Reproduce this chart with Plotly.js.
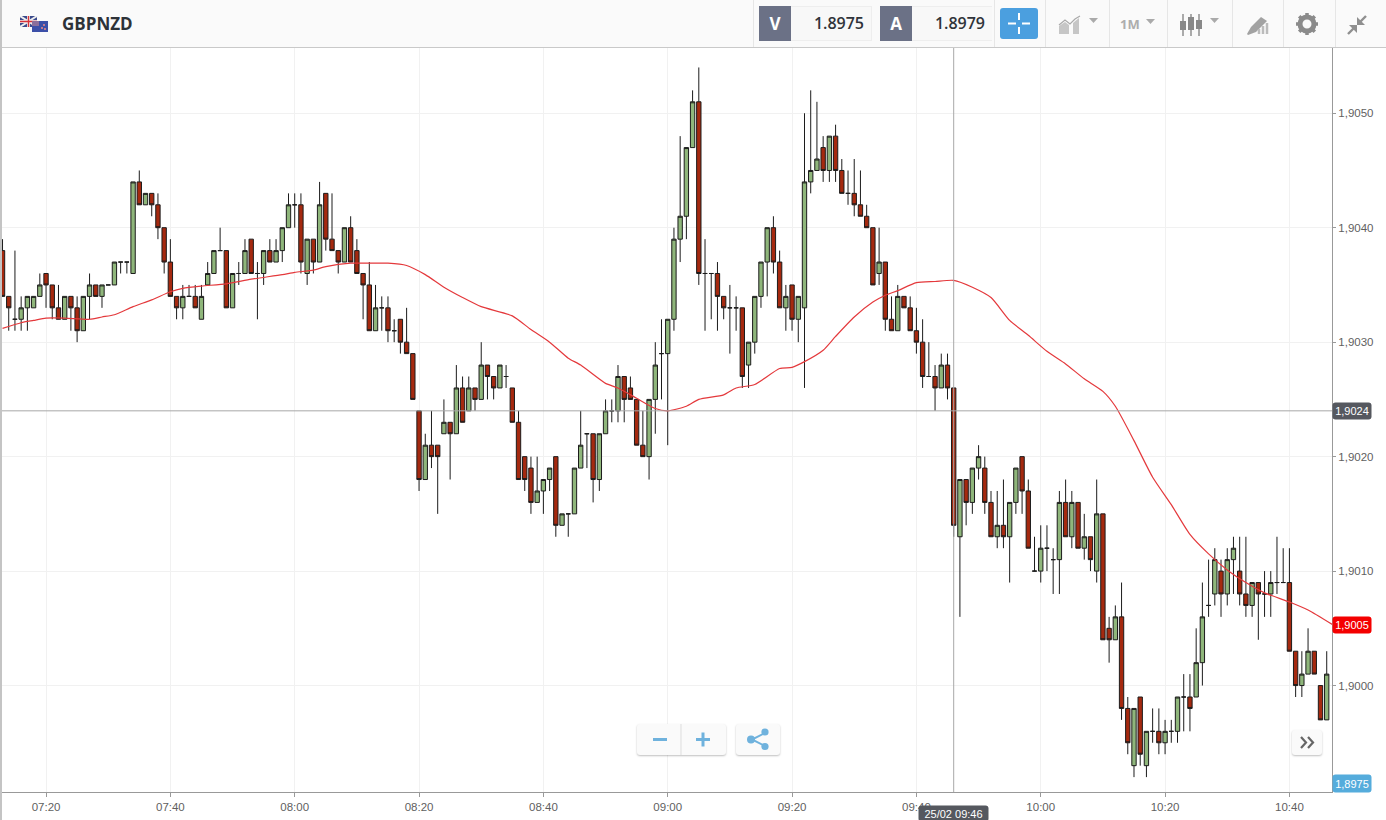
<!DOCTYPE html>
<html>
<head>
<meta charset="utf-8">
<title>GBPNZD</title>
<script src="https://cdn.plot.ly/plotly-3.0.1.min.js"></script>
<style>
  html, body { margin: 0; padding: 0; background: #fff; overflow: hidden; }
  #wrap { position: relative; width: 1386px; height: 820px; font-family: "Open Sans", sans-serif; }
  #chart { position: absolute; left: 0; top: 0; width: 1386px; height: 820px; }
  #chart .annotation rect.bg { rx: 3px; ry: 3px; }
  #edge { position: absolute; left: 0; top: 0; width: 2px; height: 820px; background: #c4c4c4; }
  #bar { position: absolute; left: 2px; top: 0; width: 1384px; height: 47px; background: #fafafa; border-bottom: 1px solid #c9c9c9; }
  #bar .sym { position: absolute; left: 60px; top: 12px; font-size: 17px; font-weight: 700; color: #2d3238; }
  #bar .sep { position: absolute; top: 0; width: 1px; height: 47px; background: #e6e6e6; }
  #bar .tag { position: absolute; top: 6px; width: 32px; height: 35px; background: #6b7186; color: #fff; font-size: 17px; font-weight: 700; line-height: 35px; text-align: center; }
  #bar .val { position: absolute; top: 6px; width: 80px; height: 33px; line-height: 33px; background: #f8f8f8; border: 1px solid #eee; border-left: 0; font-size: 16px; font-weight: 600; color: #30343a; text-align: right; }
  #bar .val span { margin-right: 7px; }
  #bar .cross { position: absolute; left: 998px; top: 8px; width: 38px; height: 31px; background: #4b9fdf; border-radius: 3px; }
  #bar svg { position: absolute; }
  #bar .tf { position: absolute; left: 1118px; top: 15px; font-size: 13px; font-weight: 700; color: #adadad; }
  .btn { position: absolute; background: #fafafa; border-radius: 3px; box-shadow: 0 1px 2px rgba(0,0,0,.25); }
  .btn svg { position: absolute; left: 0; top: 0; }
</style>
</head>
<body>
<div id="wrap">
  <div id="chart"></div>
  <div id="edge"></div>
  <div id="bar">
    <svg style="left:18px;top:16px" width="30" height="17" viewBox="0 0 30 17">
      <rect x="0" y="0" width="17" height="11" fill="#3a4a8c"/>
      <path d="M0 0L17 11M17 0L0 11" stroke="#eee" stroke-width="2"/>
      <path d="M8.5 0V11M0 5.5H17" stroke="#eee" stroke-width="3"/>
      <path d="M8.5 0V11M0 5.5H17" stroke="#d8333a" stroke-width="1.4"/>
      <rect x="12" y="5" width="16" height="11" fill="#3c50a8"/>
      <rect x="12" y="5" width="7" height="5" fill="#8a6f9c"/>
      <circle cx="24" cy="9" r="1" fill="#e88"/><circle cx="22" cy="12" r="1" fill="#e88"/><circle cx="25" cy="13" r="1" fill="#e88"/>
    </svg>
    <div class="sym">GBPNZD</div>
    <div class="sep" style="left:751px"></div>
    <div class="tag" style="left:757px">V</div>
    <div class="val" style="left:789px"><span>1.8975</span></div>
    <div class="tag" style="left:878px">A</div>
    <div class="val" style="left:910px;border-right:0"><span>1.8979</span></div>
    <div class="sep" style="left:992px"></div>
    <div class="cross">
      <svg style="left:0;top:0" width="38" height="31" viewBox="0 0 38 31">
        <path d="M8 15.5H16M22 15.5H30M19 5V12M19 19V26" stroke="#fff" stroke-width="2"/>
      </svg>
    </div>
    <div class="sep" style="left:1043px"></div>
    <svg style="left:1055px;top:14px" width="50" height="22" viewBox="0 0 50 22" fill="#c6c6c6">
      <path d="M2 20V12L8 8L12 11V20ZM16 20V9L22 4V20Z"/>
      <path d="M2 11L8 6L13 10L18 5L23 2" stroke="#aaa" stroke-width="1.2" fill="none"/>
      <path d="M32 4H41L36.5 9Z" fill="#aaa"/>
    </svg>
    <div class="sep" style="left:1107px"></div>
    <div class="tf">1M</div>
    <svg style="left:1143px;top:18px" width="12" height="8" viewBox="0 0 12 8"><path d="M1 1H10L5.5 6Z" fill="#aaa"/></svg>
    <div class="sep" style="left:1165px"></div>
    <svg style="left:1176px;top:13px" width="44" height="24" viewBox="0 0 44 24" fill="#888">
      <path d="M5 1V23M13 1V23M21 1V23" stroke="#888" stroke-width="1.4"/>
      <rect x="2" y="8" width="6" height="9"/><rect x="10" y="4" width="6" height="13"/><rect x="18" y="7" width="6" height="9"/>
      <path d="M32 5H41L36.5 10Z" fill="#aaa"/>
    </svg>
    <div class="sep" style="left:1230px"></div>
    <svg style="left:1243px;top:15px" width="24" height="22" viewBox="0 0 24 22" fill="#a2a2a2">
      <path d="M2 19L6 12L16 2L22 6L11 17L3 20Z"/>
      <path d="M14 19V14M18 19V11M22 19V8" stroke="#bbb" stroke-width="2.5"/>
    </svg>
    <div class="sep" style="left:1281px"></div>
    <svg style="left:1293px;top:12px" width="24" height="24" viewBox="0 0 24 24">
      <circle cx="12" cy="12" r="7" fill="none" stroke="#8b8b8b" stroke-width="5"/>
      <path d="M12 1V5M12 19V23M1 12H5M19 12H23M4.2 4.2L7 7M17 17L19.8 19.8M19.8 4.2L17 7M7 17L4.2 19.8" stroke="#8b8b8b" stroke-width="3.5"/>
    </svg>
    <div class="sep" style="left:1333px"></div>
    <svg style="left:1343px;top:13px" width="24" height="24" viewBox="0 0 24 24" fill="#8f8f8f">
      <path d="M21 3L15 9" stroke="#8f8f8f" stroke-width="2.4"/><path d="M12 4V12H20Z"/>
      <path d="M3 21L9 15" stroke="#8f8f8f" stroke-width="2.4"/><path d="M4 12H12V20Z"/>
    </svg>
  </div>
  <div class="btn" style="left:637px;top:724px;width:89px;height:31px">
    <svg width="89" height="31" viewBox="0 0 89 31">
      <path d="M44 0V31" stroke="#ddd"/>
      <path d="M16 15.5H30M59 15.5H73M66 8.5V22.5" stroke="#6fb2dd" stroke-width="3"/>
    </svg>
  </div>
  <div class="btn" style="left:736px;top:724px;width:44px;height:31px">
    <svg width="44" height="31" viewBox="0 0 44 31">
      <path d="M29 9L16 15.5L29 22" stroke="#6fb2dd" stroke-width="2" fill="none"/>
      <circle cx="15" cy="15.5" r="4" fill="#6fb2dd"/><circle cx="29" cy="8" r="3.6" fill="#6fb2dd"/><circle cx="29" cy="22.5" r="3.6" fill="#6fb2dd"/>
    </svg>
  </div>
  <div class="btn" style="left:1292px;top:730px;width:30px;height:25px">
    <svg width="30" height="25" viewBox="0 0 30 25">
      <path d="M9 7L14 12.5L9 18M16 7L21 12.5L16 18" stroke="#666" stroke-width="2.2" fill="none"/>
    </svg>
  </div>
</div>
<script>
const firstCandle = "2020-02-25 07:13";

const opens = [
  1.9038,1.9034,1.9032,1.9032,1.9033,1.9033,1.9034,1.9036,1.9035,1.9033,
  1.9032,1.9034,1.9033,1.9031,1.9034,1.9035,1.9034,1.9035,1.9035,1.9037,
  1.9037,1.9036,1.9044,1.9042,1.9043,1.9042,1.9040,1.9037,1.9034,1.9033,
  1.9034,1.9034,1.9032,1.9035,1.9036,1.9038,1.9038,1.9033,1.9036,1.9036,
  1.9039,1.9036,1.9036,1.9038,1.9037,1.9038,1.9040,1.9042,1.9042,1.9036,
  1.9039,1.9037,1.9043,1.9039,1.9038,1.9037,1.9040,1.9038,1.9036,1.9035,
  1.9031,1.9033,1.9033,1.9031,1.9032,1.9030,1.9029,1.9024,1.9018,1.9021,
  1.9021,1.9022,1.9023,1.9022,1.9026,1.9024,1.9026,1.9025,1.9028,1.9027,
  1.9026,1.9027,1.9026,1.9023,1.9020,1.9019,1.9016,1.9017,1.9018,1.9020,
  1.9014,1.9015,1.9015,1.9019,1.9022,1.9022,1.9018,1.9022,1.9024,1.9024,
  1.9027,1.9026,1.9025,1.9021,1.9020,1.9025,1.9029,1.9029,1.9032,1.9039,
  1.9041,1.9047,1.9051,1.9036,1.9036,1.9036,1.9034,1.9033,1.9033,1.9033,
  1.9028,1.9030,1.9034,1.9037,1.9040,1.9037,1.9033,1.9035,1.9032,1.9033,
  1.9044,1.9045,1.9047,1.9045,1.9048,1.9045,1.9043,1.9043,1.9042,1.9041,
  1.9040,1.9036,1.9037,1.9032,1.9031,1.9034,1.9033,1.9031,1.9030,1.9027,
  1.9027,1.9026,1.9028,1.9026,1.9013,1.9018,1.9016,1.9019,1.9019,1.9016,
  1.9013,1.9014,1.9013,1.9016,1.9020,1.9017,1.9010,1.9010,1.9012,1.9011,
  1.9011,1.9016,1.9013,1.9016,1.9012,1.9013,1.9010,1.9015,1.9005,1.9004,
  1.9006,1.8998,1.8993,1.8999,1.8993,1.8996,1.8996,1.8995,1.8996,1.8996,
  1.8999,1.8999,1.8999,1.9002,1.9007,1.9008,1.9010,1.9008,1.9011,1.9010,
  1.9008,1.9007,1.9009,1.9008,1.9008,1.9009,1.9009,1.9009,1.9003,1.9000,
  1.9001,1.9003,1.9000,1.8997
];
const highs = [
  1.9039,1.9034,1.9038,1.9034,1.9034,1.9034,1.9036,1.9036,1.9035,1.9035,
  1.9034,1.9034,1.9034,1.9034,1.9036,1.9035,1.9035,1.9035,1.9037,1.9037,
  1.9037,1.9044,1.9045,1.9043,1.9043,1.9043,1.9040,1.9039,1.9034,1.9035,
  1.9035,1.9035,1.9035,1.9037,1.9038,1.9040,1.9038,1.9036,1.9037,1.9039,
  1.9039,1.9037,1.9038,1.9039,1.9039,1.9040,1.9043,1.9043,1.9043,1.9039,
  1.9039,1.9044,1.9043,1.9043,1.9038,1.9040,1.9041,1.9039,1.9036,1.9037,
  1.9035,1.9034,1.9034,1.9032,1.9032,1.9033,1.9029,1.9024,1.9022,1.9024,
  1.9021,1.9025,1.9023,1.9028,1.9027,1.9027,1.9026,1.9030,1.9028,1.9027,
  1.9028,1.9028,1.9026,1.9024,1.9020,1.9020,1.9020,1.9018,1.9019,1.9020,
  1.9015,1.9015,1.9019,1.9024,1.9022,1.9022,1.9022,1.9025,1.9025,1.9028,
  1.9027,1.9027,1.9025,1.9024,1.9025,1.9030,1.9032,1.9032,1.9040,1.9048,
  1.9047,1.9052,1.9054,1.9039,1.9036,1.9037,1.9034,1.9035,1.9034,1.9033,
  1.9030,1.9034,1.9037,1.9040,1.9041,1.9038,1.9035,1.9035,1.9034,1.9050,
  1.9052,1.9051,1.9048,1.9048,1.9049,1.9046,1.9045,1.9046,1.9045,1.9042,
  1.9040,1.9040,1.9037,1.9034,1.9035,1.9034,1.9034,1.9033,1.9032,1.9030,
  1.9028,1.9029,1.9029,1.9026,1.9018,1.9018,1.9019,1.9021,1.9020,1.9017,
  1.9017,1.9018,1.9016,1.9019,1.9020,1.9018,1.9013,1.9014,1.9014,1.9012,
  1.9017,1.9018,1.9017,1.9016,1.9015,1.9013,1.9018,1.9015,1.9006,1.9007,
  1.9009,1.8999,1.8998,1.8999,1.8996,1.8998,1.8998,1.8997,1.8997,1.8999,
  1.9001,1.9001,1.9005,1.9009,1.9011,1.9012,1.9011,1.9012,1.9013,1.9013,
  1.9013,1.9009,1.9009,1.9010,1.9010,1.9013,1.9012,1.9012,1.9003,1.9003,
  1.9005,1.9003,1.9000,1.9003
];
const lows = [
  1.9034,1.9031,1.9031,1.9031,1.9031,1.9033,1.9034,1.9033,1.9032,1.9032,
  1.9032,1.9031,1.9030,1.9031,1.9032,1.9034,1.9033,1.9035,1.9035,1.9036,
  1.9036,1.9036,1.9042,1.9042,1.9041,1.9039,1.9036,1.9034,1.9032,1.9032,
  1.9034,1.9033,1.9032,1.9035,1.9036,1.9038,1.9033,1.9033,1.9035,1.9036,
  1.9036,1.9032,1.9035,1.9037,1.9037,1.9037,1.9040,1.9040,1.9036,1.9035,
  1.9036,1.9037,1.9038,1.9038,1.9036,1.9037,1.9037,1.9036,1.9032,1.9031,
  1.9031,1.9031,1.9030,1.9030,1.9029,1.9029,1.9025,1.9017,1.9018,1.9019,
  1.9015,1.9022,1.9018,1.9022,1.9023,1.9024,1.9024,1.9025,1.9025,1.9025,
  1.9026,1.9026,1.9023,1.9018,1.9017,1.9015,1.9016,1.9015,1.9017,1.9013,
  1.9014,1.9013,1.9015,1.9019,1.9019,1.9016,1.9017,1.9022,1.9023,1.9023,
  1.9023,1.9025,1.9021,1.9020,1.9018,1.9022,1.9025,1.9021,1.9031,1.9037,
  1.9039,1.9047,1.9035,1.9031,1.9032,1.9031,1.9032,1.9029,1.9031,1.9026,
  1.9026,1.9029,1.9033,1.9034,1.9036,1.9033,1.9031,1.9031,1.9030,1.9026,
  1.9043,1.9045,1.9044,1.9044,1.9044,1.9043,1.9042,1.9041,1.9041,1.9040,
  1.9035,1.9035,1.9031,1.9031,1.9031,1.9033,1.9031,1.9029,1.9026,1.9027,
  1.9024,1.9026,1.9025,1.9013,1.9006,1.9014,1.9015,1.9018,1.9015,1.9013,
  1.9012,1.9012,1.9009,1.9015,1.9015,1.9012,1.9010,1.9009,1.9010,1.9008,
  1.9008,1.9013,1.9012,1.9012,1.9011,1.9010,1.9009,1.9004,1.9002,1.9004,
  1.8997,1.8994,1.8992,1.8993,1.8992,1.8995,1.8994,1.8994,1.8995,1.8995,
  1.8996,1.8996,1.8999,1.9000,1.9006,1.9007,1.9006,1.9007,1.9008,1.9007,
  1.9006,1.9006,1.9004,1.9006,1.9006,1.9008,1.9009,1.9003,1.8999,1.8999,
  1.9001,1.9001,1.8997,1.8997
];
const closes = [
  1.9034,1.9033,1.9032,1.9033,1.9034,1.9034,1.9035,1.9035,1.9033,1.9032,
  1.9034,1.9033,1.9031,1.9034,1.9035,1.9034,1.9035,1.9035,1.9037,1.9037,
  1.9037,1.9044,1.9042,1.9043,1.9042,1.9040,1.9037,1.9034,1.9033,1.9034,
  1.9034,1.9033,1.9034,1.9036,1.9038,1.9038,1.9033,1.9036,1.9036,1.9038,
  1.9036,1.9036,1.9038,1.9037,1.9038,1.9040,1.9042,1.9042,1.9037,1.9039,
  1.9037,1.9042,1.9039,1.9038,1.9037,1.9040,1.9037,1.9036,1.9035,1.9031,
  1.9033,1.9033,1.9031,1.9031,1.9030,1.9029,1.9025,1.9018,1.9021,1.9020,
  1.9020,1.9023,1.9022,1.9026,1.9023,1.9026,1.9025,1.9028,1.9027,1.9026,
  1.9028,1.9027,1.9023,1.9018,1.9018,1.9016,1.9017,1.9018,1.9019,1.9014,
  1.9015,1.9015,1.9019,1.9021,1.9022,1.9018,1.9022,1.9024,1.9024,1.9027,
  1.9025,1.9025,1.9021,1.9020,1.9025,1.9028,1.9029,1.9032,1.9039,1.9041,
  1.9047,1.9051,1.9036,1.9036,1.9036,1.9034,1.9033,1.9033,1.9033,1.9027,
  1.9030,1.9034,1.9037,1.9040,1.9037,1.9033,1.9034,1.9032,1.9034,1.9044,
  1.9045,1.9046,1.9045,1.9048,1.9045,1.9043,1.9043,1.9042,1.9041,1.9040,
  1.9035,1.9037,1.9032,1.9031,1.9034,1.9033,1.9031,1.9030,1.9027,1.9027,
  1.9026,1.9028,1.9026,1.9014,1.9018,1.9016,1.9019,1.9020,1.9016,1.9013,
  1.9014,1.9013,1.9016,1.9019,1.9017,1.9012,1.9010,1.9012,1.9012,1.9011,
  1.9016,1.9013,1.9016,1.9012,1.9013,1.9011,1.9015,1.9004,1.9004,1.9006,
  1.8998,1.8995,1.8998,1.8994,1.8996,1.8996,1.8995,1.8996,1.8996,1.8999,
  1.8999,1.8998,1.9002,1.9006,1.9007,1.9011,1.9008,1.9011,1.9012,1.9008,
  1.9007,1.9009,1.9008,1.9008,1.9009,1.9009,1.9009,1.9003,1.9000,1.9001,
  1.9003,1.9001,1.8997,1.9001
];

const maTimes = [
  "07:13","07:16","07:18","07:20","07:23","07:27","07:29","07:31","07:34","07:37",
  "07:40","07:42","07:45","07:49","07:53","07:58","08:00","08:03","08:05","08:09",
  "08:11","08:15","08:18","08:21","08:24","08:27","08:30","08:35","08:38","08:41",
  "08:44","08:46","08:50","08:52","08:55","08:58","09:00","09:03","09:05","09:09",
  "09:11","09:14","09:18","09:20","09:22","09:25","09:27","09:30","09:33","09:35",
  "09:37","09:40","09:43","09:46","09:49","09:52","09:55","09:58","10:01","10:04",
  "10:07","10:10","10:12","10:15","10:18","10:21","10:24","10:27","10:30","10:33",
  "10:36","10:40","10:43","10:47"
];
const maValues = [
  1.90312,1.90317,1.90319,1.90321,1.90321,1.90320,1.90322,1.90324,1.90331,1.90337,
  1.90344,1.90347,1.90349,1.90351,1.90355,1.90359,1.90361,1.90363,1.90366,1.90369,
  1.90369,1.90369,1.90367,1.90359,1.90348,1.90339,1.90331,1.90323,1.90311,1.90300,
  1.90286,1.90280,1.90264,1.90260,1.90251,1.90242,1.90240,1.90244,1.90250,1.90254,
  1.90260,1.90263,1.90277,1.90278,1.90283,1.90293,1.90305,1.90322,1.90335,1.90341,
  1.90345,1.90352,1.90353,1.90354,1.90348,1.90339,1.90319,1.90306,1.90292,1.90281,
  1.90268,1.90257,1.90244,1.90214,1.90182,1.90158,1.90132,1.90115,1.90101,1.90090,
  1.90081,1.90073,1.90066,1.90053
];

const tickTimes = ["07:20","07:40","08:00","08:20","08:40","09:00","09:20","09:40","10:00","10:20","10:40"];
const priceTicks = [1.9000, 1.9010, 1.9020, 1.9030, 1.9040, 1.9050];

const crossPrice = 1.9024;
const crossTime = "09:46";
const lastMaPrice = 1.9005;

const day = firstCandle.slice(0, 11);
const start = new Date(firstCandle.replace(" ", "T") + ":00Z").getTime();
const times = opens.map((_, i) => new Date(start + i * 60000).toISOString().slice(0, 16).replace("T", " "));

const candles = {
  type: "candlestick",
  x: times,
  open: opens,
  high: highs,
  low: lows,
  close: closes,
  whiskerwidth: 0,
  increasing: { line: { color: "#1c1c1c", width: 1 }, fillcolor: "#8fb67b" },
  decreasing: { line: { color: "#1c1c1c", width: 1 }, fillcolor: "#a5290f" },
  showlegend: false,
  hoverinfo: "skip",
};

const ma = {
  type: "scatter",
  mode: "lines",
  x: maTimes.map((t) => day + t),
  y: maValues,
  line: { color: "#e4393c", width: 1.2, shape: "spline", smoothing: 0.6 },
  showlegend: false,
  hoverinfo: "skip",
};

function priceTag(text, y, color, yshift) {
  return {
    xref: "paper", x: 1, xanchor: "left",
    yref: "y", y: y, yanchor: "middle", yshift: yshift,
    text: text, showarrow: false, align: "center",
    width: 38, height: 16, bgcolor: color, borderpad: 0,
    font: { family: "Liberation Sans, Arial", size: 11, color: "#fff" },
  };
}

const layout = {
  width: 1386,
  height: 820,
  margin: { l: 2, r: 54, t: 48, b: 28, pad: 0 },
  paper_bgcolor: "#fff",
  plot_bgcolor: "#fff",
  separators: ",.",
  boxmode: "overlay",
  boxgap: 0.3,
  boxgroupgap: 0,
  font: { family: "Liberation Sans, Arial", size: 11.5, color: "#5f5f5f" },
  xaxis: {
    type: "date",
    range: [day + "07:12:55", day + "10:46:51"],
    rangeslider: { visible: false },
    tickmode: "array",
    tickvals: tickTimes.map((t) => day + t),
    ticktext: tickTimes,
    ticks: "outside",
    ticklen: 4,
    tickcolor: "#999",
    showgrid: true,
    gridcolor: "#f1f1f1",
    showline: true,
    linecolor: "#999",
    zeroline: false,
    fixedrange: true,
  },
  yaxis: {
    side: "right",
    range: [1.89907, 1.90557],
    tickmode: "array",
    tickvals: priceTicks,
    tickformat: ".4f",
    ticks: "outside",
    ticklen: 3,
    tickcolor: "#999",
    showgrid: true,
    gridcolor: "#f1f1f1",
    showline: true,
    linecolor: "#999",
    zeroline: false,
    fixedrange: true,
  },
  shapes: [
    { type: "line", xref: "paper", x0: 0, x1: 1, yref: "y", y0: crossPrice, y1: crossPrice, line: { color: "#a8a8a8", width: 1 } },
    { type: "line", xref: "x", x0: day + crossTime, x1: day + crossTime, yref: "paper", y0: 0, y1: 1, line: { color: "#a8a8a8", width: 1 } },
  ],
  annotations: [
    priceTag("1,9024", crossPrice, "#55585f", 0),
    priceTag("1,9005", lastMaPrice, "#f40000", 3),
    {
      xref: "paper", x: 1, xanchor: "left",
      yref: "paper", y: 0.012, yanchor: "middle",
      text: "1,8975", showarrow: false, align: "center",
      width: 38, height: 17, bgcolor: "#55acdc", borderpad: 0,
      font: { family: "Liberation Sans, Arial", size: 11, color: "#fff" },
    },
    {
      xref: "x", x: day + crossTime, xanchor: "center",
      yref: "paper", y: 0, yanchor: "top", yshift: -13,
      text: "25/02 09:46", showarrow: false, align: "center",
      width: 69, height: 15, bgcolor: "#55585f", borderpad: 0,
      font: { family: "Liberation Sans, Arial", size: 11, color: "#fff" },
    },
  ],
};

Plotly.newPlot("chart", [candles, ma], layout, { displayModeBar: false, staticPlot: true });
</script>
</body>
</html>
